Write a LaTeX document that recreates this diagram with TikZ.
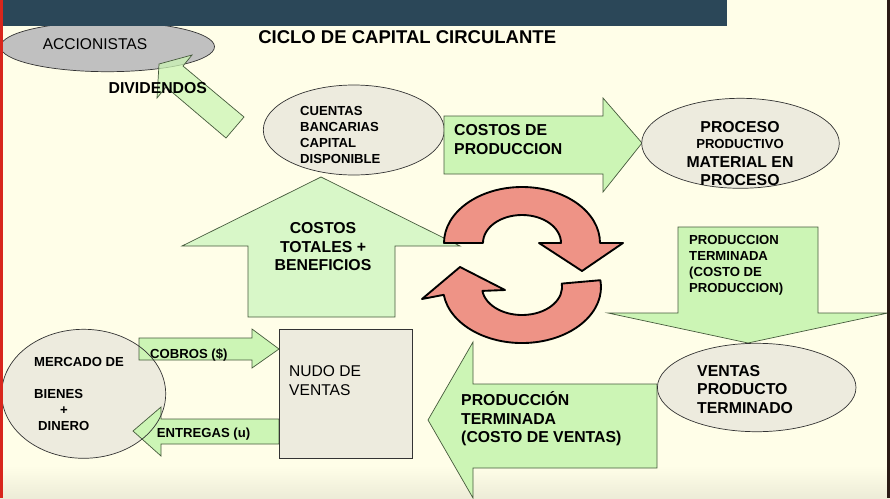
\documentclass[tikz,border=0pt]{standalone}
\usepackage{fontspec}
\setmainfont{Liberation Sans}
\usepackage{tikz}
\definecolor{bgcream}{RGB}{255,254,232}
\definecolor{topbar}{RGB}{43,71,88}
\definecolor{ovalgray}{RGB}{192,192,192}
\definecolor{ovalbeige}{RGB}{237,235,222}
\definecolor{arrowgreen}{RGB}{204,245,181}
\definecolor{arrowpale}{RGB}{216,247,200}
\definecolor{arrowline}{RGB}{70,90,60}
\definecolor{cyclered}{RGB}{238,147,134}
\definecolor{edgered}{RGB}{216,38,28}
\definecolor{edgedark}{RGB}{42,26,20}
\newcommand{\titletxt}{\fontsize{15.8}{18}\selectfont\bfseries}
\newcommand{\bigtxt}{\fontsize{13.5}{15.8}\selectfont\bfseries}
\newcommand{\smalltxt}{\fontsize{11.2}{13.7}\selectfont\bfseries}
\newcommand{\plaintxt}{\fontsize{13.3}{15.8}\selectfont}

\begin{document}
\begin{tikzpicture}[x=0.03cm,y=-0.03cm,
  blockarrow/.style={fill=arrowgreen,draw=arrowline,line width=0.6pt},
  oval/.style={fill=ovalbeige,draw=black!80,line width=0.6pt},
  cyclearrow/.style={fill=cyclered,draw=black,line width=1.6pt,line join=round},
  txt/.style={inner sep=0pt,align=left}]
  \useasboundingbox (0,0) rectangle (890,498);
  \fill[bgcream] (0,0) rectangle (890,498);
  \shade[top color=bgcream,bottom color=black!7!bgcream] (0,466) rectangle (890,498);

  \draw[oval,fill=ovalgray] (107.5,46.7) ellipse [x radius=107, y radius=25];
  \fill[topbar] (0,0) rectangle (727,26);
  \node[txt,font=\plaintxt,anchor=base] (accionistas) at (95,49.1) {ACCIONISTAS};
  \node[txt,font=\titletxt,anchor=base] (title) at (407.2,43) {CICLO DE CAPITAL CIRCULANTE};
  \draw[blockarrow,fill opacity=0.75] (244,117) -- (183,66) -- (192,55) -- (159,64) -- (157,98) -- (166,87) -- (226,138) -- cycle;
  \node[txt,font=\bigtxt,anchor=base] (dividendos) at (157.8,93.5) {DIVIDENDOS};

  \draw[oval] (353.8,130) ellipse [x radius=90.5, y radius=45];
  \node[txt,font=\smalltxt,anchor=north west] (cuentas) at (300,106.3) {CUENTAS\\BANCARIAS\\CAPITAL\\DISPONIBLE};

  \draw[blockarrow] (444,116) -- (603,116) -- (603,98) -- (642,143) -- (603,192) -- (603,174) -- (444,174) -- cycle;
  \node[txt,font=\bigtxt,anchor=north west] (costosprod) at (454,124.4) {COSTOS DE\\PRODUCCION};

  \draw[oval] (740.5,143.3) ellipse [x radius=98.8, y radius=45];
  \node[txt,font=\bigtxt,align=center,anchor=north] (proceso) at (740,121.4) {PROCESO\\[-2pt]{\smalltxt PRODUCTIVO}\\MATERIAL EN\\PROCESO};

  \draw[blockarrow,fill=arrowpale] (248,317) -- (248,246) -- (182,246) -- (321,177) -- (460,246) -- (395,246) -- (395,317) -- cycle;
  \node[txt,font=\bigtxt,align=center,anchor=north] (costostot) at (323,222.4) {COSTOS\\TOTALES +\\BENEFICIOS};

  \draw[cyclearrow] (444,243) arc[start angle=180, end angle=360, x radius=78, y radius=56]
    -- (623,243) -- (582,271) -- (539,243) -- (561,243)
    arc[start angle=360, end angle=180, x radius=39, y radius=28] -- cycle;
  \draw[cyclearrow] (561.7,283.6) -- (600.4,280.2)
    arc[start angle=-7, end angle=172, x radius=79, y radius=56]
    -- (422,299) -- (460,267) -- (505,290) -- (482.4,290.9)
    arc[start angle=172, end angle=-7, x radius=40, y radius=28] -- cycle;

  \draw[blockarrow] (678,227) -- (818,227) -- (818,313) -- (888,313) -- (748,343) -- (608,313) -- (678,313) -- cycle;
  \node[txt,font=\smalltxt,anchor=north west] (prodterm) at (689,235.3) {PRODUCCION\\TERMINADA\\(COSTO DE\\PRODUCCION)};

  \draw[blockarrow] (657,384) -- (473,384) -- (473,342) -- (428,420) -- (473,498) -- (473,468) -- (657,468) -- cycle;
  \node[txt,font=\bigtxt,anchor=north west] (prodventas) at (461,391.7) {PRODUCCIÓN\\TERMINADA\\(COSTO DE VENTAS)};

  \draw[oval] (756.7,387.5) ellipse [x radius=99.3, y radius=44.2];
  \node[txt,font=\bigtxt,anchor=north west] (ventas) at (697,365.2) {VENTAS\\PRODUCTO\\TERMINADO};

  \fill[ovalbeige] (83.7,393.8) ellipse [x radius=82, y radius=64.5];
  \draw[blockarrow] (139,338) -- (252,338) -- (252,329) -- (279,349) -- (252,368) -- (252,360) -- (139,360) -- cycle;
  \draw[blockarrow] (279,419) -- (161,419) -- (161,407) -- (133,431) -- (161,456) -- (161,444) -- (279,444) -- cycle;
  \draw[black!80,line width=0.6pt] (83.7,393.8) ellipse [x radius=82, y radius=64.5];
  \node[txt,font=\smalltxt,anchor=north west] (mercado) at (34,357.3) {MERCADO DE\\[13.7pt]BIENES\\\hspace*{22pt}+\\\hspace*{3.4pt}DINERO};
  \node[txt,font=\smalltxt,anchor=base west] (cobros) at (150,358.5) {COBROS (\$)};
  \node[txt,font=\smalltxt,anchor=base west] (entregas) at (156.7,437) {ENTREGAS (u)};

  \draw[oval] (279,329) rectangle (412,458);
  \node[txt,font=\plaintxt,anchor=north west] (nudo) at (289,365.4) {NUDO DE\\VENTAS};

  \fill[edgered] (0,0) rectangle (3,498);
  \fill[edgedark] (887,0) rectangle (890,498);
\end{tikzpicture}
\end{document}
